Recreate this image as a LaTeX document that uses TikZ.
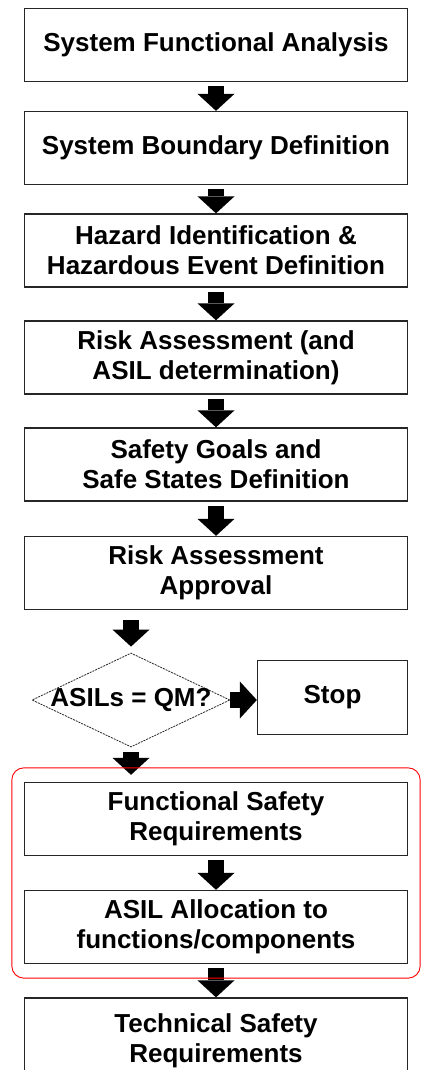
\documentclass[tikz,border=0pt]{standalone}
\usepackage{fontspec}
\setmainfont{Liberation Sans}
\usetikzlibrary{shapes.geometric,arrows.meta,fit}

\begin{document}
\begin{tikzpicture}[x=1pt,y=-1pt,font=\fontsize{26}{30}\selectfont\bfseries,
  stepbox/.style={draw=black!85, line width=1.3pt, minimum width=383pt,
    minimum height=73pt, align=center, inner sep=0pt},
  decision/.style={diamond, draw=black!85, line width=0.8pt,
    dash pattern=on 2pt off 1pt, minimum width=198pt, minimum height=94pt,
    inner sep=0pt},
  blockarrow/.style={line width=16pt,
    -{Triangle[width=37pt,length=17pt,line width=0pt]}},
  group/.style={draw=red, line width=0.9pt, rounded corners=12pt,
    inner xsep=12pt, inner ysep=14pt}]
  \useasboundingbox[fill=white] (0,0) rectangle (421,1070);

  \node[stepbox] (b1) at (216,45)    {System Functional Analysis};
  \node[stepbox] (b2) at (216,148)   {System Boundary Definition};
  \node[stepbox] (b3) at (216,250.5) {Hazard Identification \&\\Hazardous Event Definition};
  \node[stepbox] (b4) at (216,357.5) {Risk Assessment (and\\ASIL determination)};
  \node[stepbox] (b5) at (216,464.5) {Safety Goals and\\Safe States Definition};
  \node[stepbox] (b6) at (216,573)   {Risk Assessment\\Approval};
  \node[decision] (dia) at (131,700) {\makebox[0pt]{ASILs = QM?}};
  \node[stepbox, minimum width=150pt, minimum height=74pt] (stop) at (332.5,697.5) {Stop};
  \node[stepbox] (b7) at (216,819)   {Functional Safety\\Requirements};
  \node[stepbox] (b8) at (216,927)   {ASIL Allocation to\\functions/components};
  \node[stepbox, minimum height=86pt] (b9) at (216,1041) {Technical Safety\\Requirements};

  \foreach \a/\b in {b1/b2,b2/b3,b3/b4,b4/b5,b5/b6,b7/b8,b8/b9}
    \draw[blockarrow, shorten <=4pt] (\a.south) -- (\b.north);

  \draw[blockarrow, shorten <=10pt, shorten >=6pt] (b6.south -| dia.north) -- (dia.north);
  \draw[blockarrow] (dia.east) -- (dia.east -| stop.west);
  \draw[blockarrow, shorten <=5pt, shorten >=7pt] (dia.south) -- (dia.south |- b7.north);

  \node[group, fit=(b7)(b8)] (grp) {};
\end{tikzpicture}
\end{document}
